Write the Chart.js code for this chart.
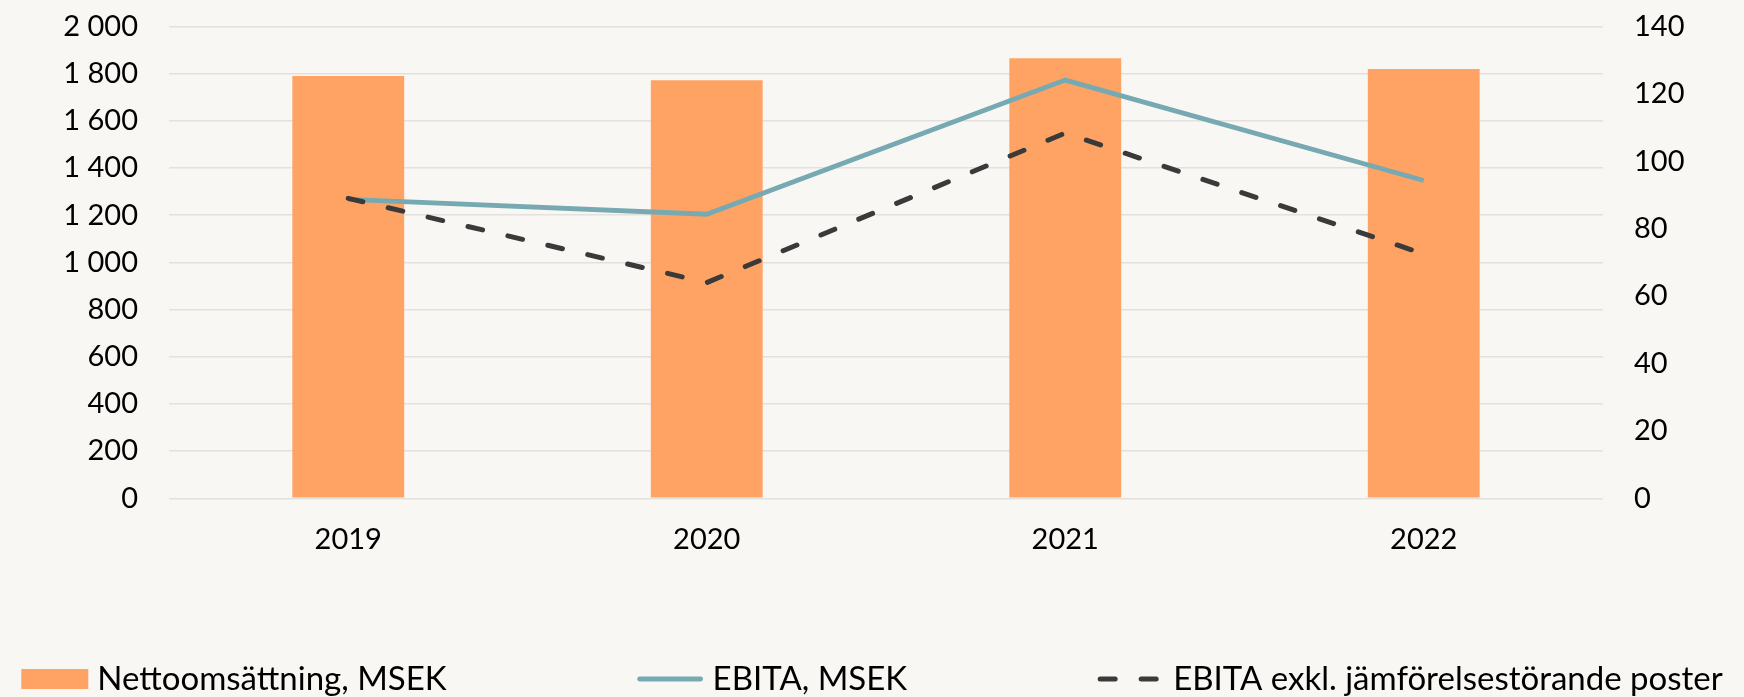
<!DOCTYPE html>
<html>
<head>
<meta charset="utf-8">
<script src="https://cdn.jsdelivr.net/npm/chart.js@4.4.0/dist/chart.umd.min.js"></script>
<style>
    html, body { margin: 0; padding: 0; background: #f8f7f4; }
    #wrap { width: 1744px; height: 697px; position: relative; }
</style>
</head>
<body>
<div id="wrap"><canvas id="salesChart"></canvas></div>
<script>
const years = ['2019', '2020', '2021', '2022'];
const netSales = [1790, 1772, 1865, 1820];
const ebita = [88.7, 84.3, 124.1, 94.3];
const ebitaAdj = [89.0, 64.0, 108.4, 72.5];
const seriesNames = ['Nettoomsättning, MSEK', 'EBITA, MSEK', 'EBITA exkl. jämförelsestörande poster'];
const leftTicks = [0, 200, 400, 600, 800, 1000, 1200, 1400, 1600, 1800, 2000];
const rightTicks = [0, 20, 40, 60, 80, 100, 120, 140];

const tickFont = { family: 'Lato', size: 29 };
const legendFont = "33px Lato";

const fmt = v => String(v).replace(/\B(?=(\d{3})+(?!\d))/g, ' ');

// custom legend, spread like the original (the built-in one would wrap to two rows)
const bottomLegend = {
    id: 'bottomLegend',
    afterDraw(chart) {
        const ctx = chart.ctx;
        const ds = chart.data.datasets;
        const gap = 190, boxW = 67, textGap = 9;
        ctx.save();
        ctx.font = legendFont;
        const widths = ds.map(d => boxW + textGap + ctx.measureText(d.label).width);
        const total = widths.reduce((a, b) => a + b, 0) + gap * (ds.length - 1);
        let x = (chart.width - total) / 2;
        const y = 679;
        ds.forEach((d, i) => {
            if (d.type === 'bar') {
                ctx.fillStyle = d.backgroundColor;
                ctx.fillRect(x, y - 10, boxW, 20);
            } else {
                ctx.strokeStyle = d.borderColor;
                ctx.lineWidth = d.borderWidth;
                ctx.lineCap = 'round';
                ctx.setLineDash(d.borderDash || []);
                ctx.beginPath();
                ctx.moveTo(x + 3, y);
                ctx.lineTo(x + boxW - 3, y);
                ctx.stroke();
                ctx.setLineDash([]);
            }
            ctx.fillStyle = '#000';
            ctx.textBaseline = 'middle';
            ctx.fillText(d.label, x + boxW + textGap, y);
            x += widths[i] + gap;
        });
        ctx.restore();
    }
};

// vertical axes: fixed width, and no extra top/bottom padding from the tick padding
const fixAxis = w => s => {
    s.width = w;
    s.paddingTop = 0;
    s.paddingBottom = 0;
};

new Chart(document.getElementById('salesChart'), {
    data: {
        labels: years,
        datasets: [
            {
                type: 'bar',
                label: seriesNames[0],
                data: netSales,
                backgroundColor: '#ffa364',
                yAxisID: 'y',
                order: 2,
                barPercentage: 0.312,
                categoryPercentage: 1
            },
            {
                type: 'line',
                label: seriesNames[1],
                data: ebita,
                borderColor: '#76a9b1',
                borderWidth: 4.8,
                pointRadius: 0,
                tension: 0,
                yAxisID: 'y1',
                order: 1
            },
            {
                type: 'line',
                label: seriesNames[2],
                data: ebitaAdj,
                borderColor: '#3a3a3a',
                borderWidth: 5,
                borderDash: [15, 26],
                borderCapStyle: 'round',
                pointRadius: 0,
                tension: 0,
                yAxisID: 'y1',
                order: 0
            }
        ]
    },
    options: {
        responsive: true,
        maintainAspectRatio: false,
        animation: false,
        layout: { padding: { top: 26.5, left: 0, right: 0, bottom: 0 } },
        plugins: {
            legend: { display: false },
            tooltip: { enabled: false }
        },
        scales: {
            x: {
                offset: true,
                grid: { display: false, drawTicks: false },
                border: { display: false },
                ticks: { font: tickFont, color: '#000', padding: 24 },
                afterFit: s => { s.height = 697 - 498.3; }
            },
            y: {
                position: 'left',
                min: 0,
                max: 2000,
                afterBuildTicks: s => { s.ticks = leftTicks.map(v => ({ value: v })); },
                grid: { color: '#e2e1de', lineWidth: 1.6, drawTicks: false },
                border: { display: false },
                ticks: { font: tickFont, color: '#000', padding: 31, callback: v => fmt(v) },
                afterFit: fixAxis(169)
            },
            y1: {
                position: 'right',
                min: 0,
                max: 140,
                afterBuildTicks: s => { s.ticks = rightTicks.map(v => ({ value: v })); },
                grid: { display: false, drawTicks: false },
                border: { display: false },
                ticks: { font: tickFont, color: '#000', padding: 31 },
                afterFit: fixAxis(1744 - 1603)
            }
        }
    },
    plugins: [bottomLegend]
});
</script>
</body>
</html>
